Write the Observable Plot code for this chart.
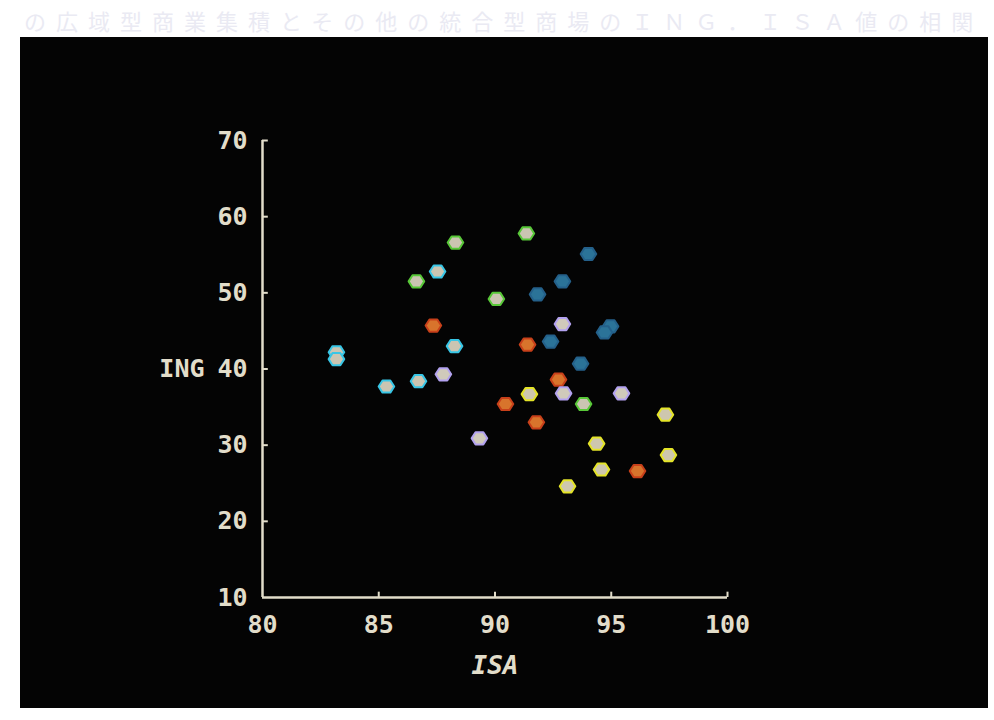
<!DOCTYPE html>
<html>
<head>
<meta charset="utf-8">
<script src="https://cdn.jsdelivr.net/npm/d3@7"></script>
<script src="https://cdn.jsdelivr.net/npm/@observablehq/plot@0.6"></script>
<style>
  html, body { margin: 0; padding: 0; background: #ffffff; width: 994px; height: 720px; overflow: hidden; }
  #title { position: absolute; left: 24px; top: 4px; width: 972px; font-family: "Noto Sans CJK JP", sans-serif;
           font-size: 22px; letter-spacing: 10px; color: #eaeaf3; white-space: nowrap; }
  #photo { position: absolute; left: 20px; top: 37px; width: 968px; height: 671px; background: #040404; }
  #chart { position: absolute; left: 0; top: 0; }
</style>
</head>
<body>
<div id="title">の広域型商業集積とその他の統合型商場のＩＮＧ．ＩＳＡ値の相関</div>
<div id="photo"></div>
<div id="chart"></div>
<script>
// ---- data ----
const xTicks = [80, 85, 90, 95, 100];
const yTicks = [10, 20, 30, 40, 50, 60, 70];
const groups = ["A", "B", "C", "D", "E", "F"];
const groupFill   = ["#cbc5b2", "#cbc5b2", "#d8742c", "#2b7398", "#d0cabb", "#cec7ae"];
const groupStroke = ["#38c6e6", "#58c838", "#c8401a", "#24608a", "#b3a2f0", "#e4e428"];
const isa = [
  83.18, 83.18, 85.33, 86.71, 88.26, 87.53,            // A
  86.62, 88.30, 90.06, 91.35, 93.81,                   // B
  87.35, 90.45, 91.40, 92.73, 91.78, 96.13,            // C
  94.02, 92.90, 91.83, 92.39, 94.97, 94.71, 93.68,     // D
  87.78, 89.33, 92.90, 92.95, 95.44,                   // E
  91.48, 97.33, 94.37, 97.46, 94.58, 93.12             // F
];
const ing = [
  42.2, 41.3, 37.7, 38.4, 43.0, 52.8,
  51.5, 56.6, 49.2, 57.8, 35.4,
  45.7, 35.4, 43.2, 38.6, 33.0, 26.6,
  55.1, 51.5, 49.8, 43.6, 45.6, 44.8, 40.7,
  39.3, 30.9, 45.9, 36.8, 36.8,
  36.7, 34.0, 30.2, 28.7, 26.8, 24.6
];
const grp = [
  "A","A","A","A","A","A",
  "B","B","B","B","B",
  "C","C","C","C","C","C",
  "D","D","D","D","D","D","D",
  "E","E","E","E","E",
  "F","F","F","F","F","F"
];

const rows = isa.map((v, i) => ({isa: v, ing: ing[i], grp: grp[i]}));
const ink = "#e2ddca";

// flattened hexagonal blob symbol (as seen on the screen)
const blob = {
  draw(ctx, size) {
    const r = Math.sqrt(size / Math.PI);
    const w = r, h = r * 0.78;
    ctx.moveTo(-w, 0);
    ctx.lineTo(-w * 0.5, -h);
    ctx.lineTo(w * 0.5, -h);
    ctx.lineTo(w, 0);
    ctx.lineTo(w * 0.5, h);
    ctx.lineTo(-w * 0.5, h);
    ctx.closePath();
  }
};

const dotMarks = groups.map((g, i) => Plot.dot(rows.filter(d => d.grp === g), {
  x: "isa", y: "ing", symbol: blob, r: 7.8,
  fill: groupFill[i], stroke: groupStroke[i], strokeWidth: 2, strokeLinejoin: "round"
}));

const chart = Plot.plot({
  width: 994,
  height: 720,
  marginLeft: 262,
  marginRight: 267,
  marginTop: 140,
  marginBottom: 123,
  x: {domain: [80, 100], ticks: xTicks, tickSize: 0, tickPadding: 18, label: null},
  y: {domain: [10, 70], ticks: yTicks, tickSize: 0, tickPadding: 15, label: null},
  style: {background: "transparent", color: ink, fontFamily: "'DejaVu Sans Mono', monospace", fontSize: "25px", fontWeight: "bold", overflow: "visible"},
  marks: [
    Plot.ruleX([80], {y1: 10, y2: 70, stroke: ink, strokeWidth: 2.5}),
    Plot.ruleY([10], {x1: 80, x2: 100, stroke: ink, strokeWidth: 2.5}),
    Plot.ruleY(yTicks.slice(1), {y: d => d, x1: 80, x2: 80.25, stroke: ink, strokeWidth: 2}),
    Plot.ruleX(xTicks.slice(1), {x: d => d, y1: 10, y2: 10.7, stroke: ink, strokeWidth: 2}),
    ...dotMarks,
    Plot.text(["ING"], {text: d => d, frameAnchor: "left", textAnchor: "end", dx: -58, fill: ink, fontSize: 25, fontWeight: "bold"}),
    Plot.text(["ISA"], {text: d => d, frameAnchor: "bottom", dy: 76, fill: ink, fontSize: 26, fontStyle: "italic", fontWeight: "bold"})
  ]
});
document.getElementById("chart").appendChild(chart);
</script>
</body>
</html>
